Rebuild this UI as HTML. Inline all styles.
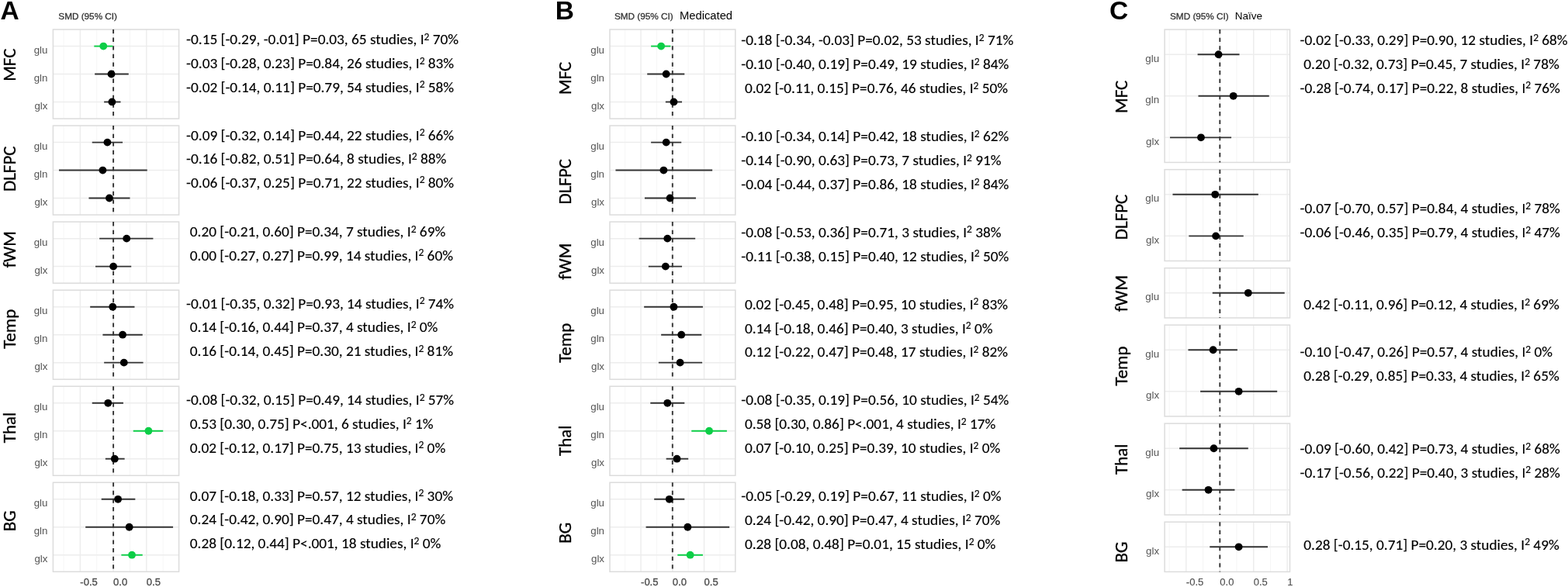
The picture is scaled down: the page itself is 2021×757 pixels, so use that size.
<!DOCTYPE html><html><head><meta charset="utf-8"><style>html,body{margin:0;padding:0;background:#fff;}body{width:2021px;height:757px;overflow:hidden;}svg{display:block;}</style></head><body>
<svg width="2021" height="757" viewBox="0 0 2021 757">
<rect width="2021" height="757" fill="#fff"/>
<g>
<line x1="81.97" y1="38.00" x2="81.97" y2="153.04" stroke="#f4f4f4" stroke-width="0.8"/>
<line x1="103.35" y1="38.00" x2="103.35" y2="153.04" stroke="#ececec" stroke-width="1.4"/>
<line x1="124.72" y1="38.00" x2="124.72" y2="153.04" stroke="#f4f4f4" stroke-width="0.8"/>
<line x1="146.10" y1="38.00" x2="146.10" y2="153.04" stroke="#ececec" stroke-width="1.4"/>
<line x1="167.47" y1="38.00" x2="167.47" y2="153.04" stroke="#f4f4f4" stroke-width="0.8"/>
<line x1="188.85" y1="38.00" x2="188.85" y2="153.04" stroke="#ececec" stroke-width="1.4"/>
<line x1="210.22" y1="38.00" x2="210.22" y2="153.04" stroke="#f4f4f4" stroke-width="0.8"/>
<line x1="68.40" y1="59.57" x2="230.60" y2="59.57" stroke="#ededed" stroke-width="1.5"/>
<line x1="68.40" y1="95.52" x2="230.60" y2="95.52" stroke="#ededed" stroke-width="1.5"/>
<line x1="68.40" y1="131.47" x2="230.60" y2="131.47" stroke="#ededed" stroke-width="1.5"/>
<rect x="68.40" y="38.00" width="162.20" height="115.04" fill="none" stroke="#dcdcdc" stroke-width="1.5"/>
<line x1="146.10" y1="38.00" x2="146.10" y2="153.04" stroke="#333" stroke-width="1.9" stroke-dasharray="5.3 5.3"/>
<line x1="121.30" y1="59.57" x2="145.25" y2="59.57" stroke="#0dce47" stroke-width="1.9"/>
<circle cx="133.28" cy="59.57" r="4.9" fill="#0dce47"/>
<line x1="122.16" y1="95.52" x2="165.76" y2="95.52" stroke="#333" stroke-width="1.9"/>
<circle cx="143.53" cy="95.52" r="4.9" fill="#000"/>
<line x1="134.13" y1="131.47" x2="155.50" y2="131.47" stroke="#333" stroke-width="1.9"/>
<circle cx="144.39" cy="131.47" r="4.9" fill="#000"/>
<text x="61.40" y="69.17" font-family="'Liberation Sans', Arial, sans-serif" font-size="13.3" fill="#555" text-anchor="end">glu</text>
<text x="61.40" y="105.12" font-family="'Liberation Sans', Arial, sans-serif" font-size="13.3" fill="#555" text-anchor="end">gln</text>
<text x="61.40" y="141.07" font-family="'Liberation Sans', Arial, sans-serif" font-size="13.3" fill="#555" text-anchor="end">glx</text>
</g>
<text transform="translate(20.00,83.70) rotate(-90)" textLength="42.30" lengthAdjust="spacingAndGlyphs" font-family="Carlito, 'Liberation Sans', sans-serif" font-size="23" fill="#000" stroke="#000" stroke-width="0.35" text-anchor="middle">MFC</text>
<text x="240.10" y="57.30" textLength="350.97" lengthAdjust="spacingAndGlyphs" font-family="Carlito, 'Liberation Sans', sans-serif" font-size="19.3" fill="#000" stroke="#000" stroke-width="0.15" xml:space="preserve">-0.15 [-0.29, -0.01] P=0.03, 65 studies, I<tspan font-size="13.5" dy="-5.4">2</tspan><tspan dy="5.4"> 70%</tspan></text>
<text x="240.10" y="87.90" textLength="345.06" lengthAdjust="spacingAndGlyphs" font-family="Carlito, 'Liberation Sans', sans-serif" font-size="19.3" fill="#000" stroke="#000" stroke-width="0.15" xml:space="preserve">-0.03 [-0.28, 0.23] P=0.84, 26 studies, I<tspan font-size="13.5" dy="-5.4">2</tspan><tspan dy="5.4"> 83%</tspan></text>
<text x="240.10" y="118.60" textLength="345.06" lengthAdjust="spacingAndGlyphs" font-family="Carlito, 'Liberation Sans', sans-serif" font-size="19.3" fill="#000" stroke="#000" stroke-width="0.15" xml:space="preserve">-0.02 [-0.14, 0.11] P=0.79, 54 studies, I<tspan font-size="13.5" dy="-5.4">2</tspan><tspan dy="5.4"> 58%</tspan></text>
<g>
<line x1="81.97" y1="162.04" x2="81.97" y2="277.08" stroke="#f4f4f4" stroke-width="0.8"/>
<line x1="103.35" y1="162.04" x2="103.35" y2="277.08" stroke="#ececec" stroke-width="1.4"/>
<line x1="124.72" y1="162.04" x2="124.72" y2="277.08" stroke="#f4f4f4" stroke-width="0.8"/>
<line x1="146.10" y1="162.04" x2="146.10" y2="277.08" stroke="#ececec" stroke-width="1.4"/>
<line x1="167.47" y1="162.04" x2="167.47" y2="277.08" stroke="#f4f4f4" stroke-width="0.8"/>
<line x1="188.85" y1="162.04" x2="188.85" y2="277.08" stroke="#ececec" stroke-width="1.4"/>
<line x1="210.22" y1="162.04" x2="210.22" y2="277.08" stroke="#f4f4f4" stroke-width="0.8"/>
<line x1="68.40" y1="183.61" x2="230.60" y2="183.61" stroke="#ededed" stroke-width="1.5"/>
<line x1="68.40" y1="219.56" x2="230.60" y2="219.56" stroke="#ededed" stroke-width="1.5"/>
<line x1="68.40" y1="255.51" x2="230.60" y2="255.51" stroke="#ededed" stroke-width="1.5"/>
<rect x="68.40" y="162.04" width="162.20" height="115.04" fill="none" stroke="#dcdcdc" stroke-width="1.5"/>
<line x1="146.10" y1="162.04" x2="146.10" y2="277.08" stroke="#333" stroke-width="1.9" stroke-dasharray="5.3 5.3"/>
<line x1="118.74" y1="183.61" x2="158.07" y2="183.61" stroke="#333" stroke-width="1.9"/>
<circle cx="138.41" cy="183.61" r="4.9" fill="#000"/>
<line x1="75.99" y1="219.56" x2="189.70" y2="219.56" stroke="#333" stroke-width="1.9"/>
<circle cx="132.42" cy="219.56" r="4.9" fill="#000"/>
<line x1="114.47" y1="255.51" x2="167.47" y2="255.51" stroke="#333" stroke-width="1.9"/>
<circle cx="140.97" cy="255.51" r="4.9" fill="#000"/>
<text x="61.40" y="193.21" font-family="'Liberation Sans', Arial, sans-serif" font-size="13.3" fill="#555" text-anchor="end">glu</text>
<text x="61.40" y="229.16" font-family="'Liberation Sans', Arial, sans-serif" font-size="13.3" fill="#555" text-anchor="end">gln</text>
<text x="61.40" y="265.11" font-family="'Liberation Sans', Arial, sans-serif" font-size="13.3" fill="#555" text-anchor="end">glx</text>
</g>
<text transform="translate(20.00,217.70) rotate(-90)" textLength="58.55" lengthAdjust="spacingAndGlyphs" font-family="Carlito, 'Liberation Sans', sans-serif" font-size="23" fill="#000" stroke="#000" stroke-width="0.35" text-anchor="middle">DLFPC</text>
<text x="240.10" y="180.70" textLength="345.06" lengthAdjust="spacingAndGlyphs" font-family="Carlito, 'Liberation Sans', sans-serif" font-size="19.3" fill="#000" stroke="#000" stroke-width="0.15" xml:space="preserve">-0.09 [-0.32, 0.14] P=0.44, 22 studies, I<tspan font-size="13.5" dy="-5.4">2</tspan><tspan dy="5.4"> 66%</tspan></text>
<text x="240.10" y="211.40" textLength="335.30" lengthAdjust="spacingAndGlyphs" font-family="Carlito, 'Liberation Sans', sans-serif" font-size="19.3" fill="#000" stroke="#000" stroke-width="0.15" xml:space="preserve">-0.16 [-0.82, 0.51] P=0.64, 8 studies, I<tspan font-size="13.5" dy="-5.4">2</tspan><tspan dy="5.4"> 88%</tspan></text>
<text x="240.10" y="241.80" textLength="345.06" lengthAdjust="spacingAndGlyphs" font-family="Carlito, 'Liberation Sans', sans-serif" font-size="19.3" fill="#000" stroke="#000" stroke-width="0.15" xml:space="preserve">-0.06 [-0.37, 0.25] P=0.71, 22 studies, I<tspan font-size="13.5" dy="-5.4">2</tspan><tspan dy="5.4"> 80%</tspan></text>
<g>
<line x1="81.97" y1="286.08" x2="81.97" y2="365.17" stroke="#f4f4f4" stroke-width="0.8"/>
<line x1="103.35" y1="286.08" x2="103.35" y2="365.17" stroke="#ececec" stroke-width="1.4"/>
<line x1="124.72" y1="286.08" x2="124.72" y2="365.17" stroke="#f4f4f4" stroke-width="0.8"/>
<line x1="146.10" y1="286.08" x2="146.10" y2="365.17" stroke="#ececec" stroke-width="1.4"/>
<line x1="167.47" y1="286.08" x2="167.47" y2="365.17" stroke="#f4f4f4" stroke-width="0.8"/>
<line x1="188.85" y1="286.08" x2="188.85" y2="365.17" stroke="#ececec" stroke-width="1.4"/>
<line x1="210.22" y1="286.08" x2="210.22" y2="365.17" stroke="#f4f4f4" stroke-width="0.8"/>
<line x1="68.40" y1="307.65" x2="230.60" y2="307.65" stroke="#ededed" stroke-width="1.5"/>
<line x1="68.40" y1="343.60" x2="230.60" y2="343.60" stroke="#ededed" stroke-width="1.5"/>
<rect x="68.40" y="286.08" width="162.20" height="79.09" fill="none" stroke="#dcdcdc" stroke-width="1.5"/>
<line x1="146.10" y1="286.08" x2="146.10" y2="365.17" stroke="#333" stroke-width="1.9" stroke-dasharray="5.3 5.3"/>
<line x1="128.14" y1="307.65" x2="197.40" y2="307.65" stroke="#333" stroke-width="1.9"/>
<circle cx="163.20" cy="307.65" r="4.9" fill="#000"/>
<line x1="123.01" y1="343.60" x2="169.19" y2="343.60" stroke="#333" stroke-width="1.9"/>
<circle cx="146.10" cy="343.60" r="4.9" fill="#000"/>
<text x="61.40" y="317.25" font-family="'Liberation Sans', Arial, sans-serif" font-size="13.3" fill="#555" text-anchor="end">glu</text>
<text x="61.40" y="353.20" font-family="'Liberation Sans', Arial, sans-serif" font-size="13.3" fill="#555" text-anchor="end">glx</text>
</g>
<text transform="translate(20.00,321.70) rotate(-90)" textLength="47.16" lengthAdjust="spacingAndGlyphs" font-family="Carlito, 'Liberation Sans', sans-serif" font-size="23" fill="#000" stroke="#000" stroke-width="0.35" text-anchor="middle">fWM</text>
<text x="244.80" y="304.90" textLength="329.39" lengthAdjust="spacingAndGlyphs" font-family="Carlito, 'Liberation Sans', sans-serif" font-size="19.3" fill="#000" stroke="#000" stroke-width="0.15" xml:space="preserve">0.20 [-0.21, 0.60] P=0.34, 7 studies, I<tspan font-size="13.5" dy="-5.4">2</tspan><tspan dy="5.4"> 69%</tspan></text>
<text x="244.80" y="335.50" textLength="339.16" lengthAdjust="spacingAndGlyphs" font-family="Carlito, 'Liberation Sans', sans-serif" font-size="19.3" fill="#000" stroke="#000" stroke-width="0.15" xml:space="preserve">0.00 [-0.27, 0.27] P=0.99, 14 studies, I<tspan font-size="13.5" dy="-5.4">2</tspan><tspan dy="5.4"> 60%</tspan></text>
<g>
<line x1="81.97" y1="374.17" x2="81.97" y2="489.21" stroke="#f4f4f4" stroke-width="0.8"/>
<line x1="103.35" y1="374.17" x2="103.35" y2="489.21" stroke="#ececec" stroke-width="1.4"/>
<line x1="124.72" y1="374.17" x2="124.72" y2="489.21" stroke="#f4f4f4" stroke-width="0.8"/>
<line x1="146.10" y1="374.17" x2="146.10" y2="489.21" stroke="#ececec" stroke-width="1.4"/>
<line x1="167.47" y1="374.17" x2="167.47" y2="489.21" stroke="#f4f4f4" stroke-width="0.8"/>
<line x1="188.85" y1="374.17" x2="188.85" y2="489.21" stroke="#ececec" stroke-width="1.4"/>
<line x1="210.22" y1="374.17" x2="210.22" y2="489.21" stroke="#f4f4f4" stroke-width="0.8"/>
<line x1="68.40" y1="395.74" x2="230.60" y2="395.74" stroke="#ededed" stroke-width="1.5"/>
<line x1="68.40" y1="431.69" x2="230.60" y2="431.69" stroke="#ededed" stroke-width="1.5"/>
<line x1="68.40" y1="467.64" x2="230.60" y2="467.64" stroke="#ededed" stroke-width="1.5"/>
<rect x="68.40" y="374.17" width="162.20" height="115.04" fill="none" stroke="#dcdcdc" stroke-width="1.5"/>
<line x1="146.10" y1="374.17" x2="146.10" y2="489.21" stroke="#333" stroke-width="1.9" stroke-dasharray="5.3 5.3"/>
<line x1="116.17" y1="395.74" x2="173.46" y2="395.74" stroke="#333" stroke-width="1.9"/>
<circle cx="145.25" cy="395.74" r="4.9" fill="#000"/>
<line x1="132.42" y1="431.69" x2="183.72" y2="431.69" stroke="#333" stroke-width="1.9"/>
<circle cx="158.07" cy="431.69" r="4.9" fill="#000"/>
<line x1="134.13" y1="467.64" x2="184.57" y2="467.64" stroke="#333" stroke-width="1.9"/>
<circle cx="159.78" cy="467.64" r="4.9" fill="#000"/>
<text x="61.40" y="405.34" font-family="'Liberation Sans', Arial, sans-serif" font-size="13.3" fill="#555" text-anchor="end">glu</text>
<text x="61.40" y="441.29" font-family="'Liberation Sans', Arial, sans-serif" font-size="13.3" fill="#555" text-anchor="end">gln</text>
<text x="61.40" y="477.24" font-family="'Liberation Sans', Arial, sans-serif" font-size="13.3" fill="#555" text-anchor="end">glx</text>
</g>
<text transform="translate(20.00,424.30) rotate(-90)" textLength="51.08" lengthAdjust="spacingAndGlyphs" font-family="Carlito, 'Liberation Sans', sans-serif" font-size="23" fill="#000" stroke="#000" stroke-width="0.35" text-anchor="middle">Temp</text>
<text x="240.10" y="397.80" textLength="345.06" lengthAdjust="spacingAndGlyphs" font-family="Carlito, 'Liberation Sans', sans-serif" font-size="19.3" fill="#000" stroke="#000" stroke-width="0.15" xml:space="preserve">-0.01 [-0.35, 0.32] P=0.93, 14 studies, I<tspan font-size="13.5" dy="-5.4">2</tspan><tspan dy="5.4"> 74%</tspan></text>
<text x="244.80" y="428.40" textLength="319.62" lengthAdjust="spacingAndGlyphs" font-family="Carlito, 'Liberation Sans', sans-serif" font-size="19.3" fill="#000" stroke="#000" stroke-width="0.15" xml:space="preserve">0.14 [-0.16, 0.44] P=0.37, 4 studies, I<tspan font-size="13.5" dy="-5.4">2</tspan><tspan dy="5.4"> 0%</tspan></text>
<text x="244.80" y="459.20" textLength="339.16" lengthAdjust="spacingAndGlyphs" font-family="Carlito, 'Liberation Sans', sans-serif" font-size="19.3" fill="#000" stroke="#000" stroke-width="0.15" xml:space="preserve">0.16 [-0.14, 0.45] P=0.30, 21 studies, I<tspan font-size="13.5" dy="-5.4">2</tspan><tspan dy="5.4"> 81%</tspan></text>
<g>
<line x1="81.97" y1="498.21" x2="81.97" y2="613.25" stroke="#f4f4f4" stroke-width="0.8"/>
<line x1="103.35" y1="498.21" x2="103.35" y2="613.25" stroke="#ececec" stroke-width="1.4"/>
<line x1="124.72" y1="498.21" x2="124.72" y2="613.25" stroke="#f4f4f4" stroke-width="0.8"/>
<line x1="146.10" y1="498.21" x2="146.10" y2="613.25" stroke="#ececec" stroke-width="1.4"/>
<line x1="167.47" y1="498.21" x2="167.47" y2="613.25" stroke="#f4f4f4" stroke-width="0.8"/>
<line x1="188.85" y1="498.21" x2="188.85" y2="613.25" stroke="#ececec" stroke-width="1.4"/>
<line x1="210.22" y1="498.21" x2="210.22" y2="613.25" stroke="#f4f4f4" stroke-width="0.8"/>
<line x1="68.40" y1="519.78" x2="230.60" y2="519.78" stroke="#ededed" stroke-width="1.5"/>
<line x1="68.40" y1="555.73" x2="230.60" y2="555.73" stroke="#ededed" stroke-width="1.5"/>
<line x1="68.40" y1="591.68" x2="230.60" y2="591.68" stroke="#ededed" stroke-width="1.5"/>
<rect x="68.40" y="498.21" width="162.20" height="115.04" fill="none" stroke="#dcdcdc" stroke-width="1.5"/>
<line x1="146.10" y1="498.21" x2="146.10" y2="613.25" stroke="#333" stroke-width="1.9" stroke-dasharray="5.3 5.3"/>
<line x1="118.74" y1="519.78" x2="158.92" y2="519.78" stroke="#333" stroke-width="1.9"/>
<circle cx="139.26" cy="519.78" r="4.9" fill="#000"/>
<line x1="171.75" y1="555.73" x2="210.22" y2="555.73" stroke="#0dce47" stroke-width="1.9"/>
<circle cx="191.41" cy="555.73" r="4.9" fill="#0dce47"/>
<line x1="135.84" y1="591.68" x2="160.63" y2="591.68" stroke="#333" stroke-width="1.9"/>
<circle cx="147.81" cy="591.68" r="4.9" fill="#000"/>
<text x="61.40" y="529.38" font-family="'Liberation Sans', Arial, sans-serif" font-size="13.3" fill="#555" text-anchor="end">glu</text>
<text x="61.40" y="565.33" font-family="'Liberation Sans', Arial, sans-serif" font-size="13.3" fill="#555" text-anchor="end">gln</text>
<text x="61.40" y="601.28" font-family="'Liberation Sans', Arial, sans-serif" font-size="13.3" fill="#555" text-anchor="end">glx</text>
</g>
<text transform="translate(20.00,551.50) rotate(-90)" textLength="39.59" lengthAdjust="spacingAndGlyphs" font-family="Carlito, 'Liberation Sans', sans-serif" font-size="23" fill="#000" stroke="#000" stroke-width="0.35" text-anchor="middle">Thal</text>
<text x="240.10" y="522.10" textLength="345.06" lengthAdjust="spacingAndGlyphs" font-family="Carlito, 'Liberation Sans', sans-serif" font-size="19.3" fill="#000" stroke="#000" stroke-width="0.15" xml:space="preserve">-0.08 [-0.32, 0.15] P=0.49, 14 studies, I<tspan font-size="13.5" dy="-5.4">2</tspan><tspan dy="5.4"> 57%</tspan></text>
<text x="244.80" y="552.70" textLength="313.72" lengthAdjust="spacingAndGlyphs" font-family="Carlito, 'Liberation Sans', sans-serif" font-size="19.3" fill="#000" stroke="#000" stroke-width="0.15" xml:space="preserve">0.53 [0.30, 0.75] P&lt;.001, 6 studies, I<tspan font-size="13.5" dy="-5.4">2</tspan><tspan dy="5.4"> 1%</tspan></text>
<text x="244.80" y="583.60" textLength="329.39" lengthAdjust="spacingAndGlyphs" font-family="Carlito, 'Liberation Sans', sans-serif" font-size="19.3" fill="#000" stroke="#000" stroke-width="0.15" xml:space="preserve">0.02 [-0.12, 0.17] P=0.75, 13 studies, I<tspan font-size="13.5" dy="-5.4">2</tspan><tspan dy="5.4"> 0%</tspan></text>
<g>
<line x1="81.97" y1="622.25" x2="81.97" y2="737.29" stroke="#f4f4f4" stroke-width="0.8"/>
<line x1="103.35" y1="622.25" x2="103.35" y2="737.29" stroke="#ececec" stroke-width="1.4"/>
<line x1="124.72" y1="622.25" x2="124.72" y2="737.29" stroke="#f4f4f4" stroke-width="0.8"/>
<line x1="146.10" y1="622.25" x2="146.10" y2="737.29" stroke="#ececec" stroke-width="1.4"/>
<line x1="167.47" y1="622.25" x2="167.47" y2="737.29" stroke="#f4f4f4" stroke-width="0.8"/>
<line x1="188.85" y1="622.25" x2="188.85" y2="737.29" stroke="#ececec" stroke-width="1.4"/>
<line x1="210.22" y1="622.25" x2="210.22" y2="737.29" stroke="#f4f4f4" stroke-width="0.8"/>
<line x1="68.40" y1="643.82" x2="230.60" y2="643.82" stroke="#ededed" stroke-width="1.5"/>
<line x1="68.40" y1="679.77" x2="230.60" y2="679.77" stroke="#ededed" stroke-width="1.5"/>
<line x1="68.40" y1="715.72" x2="230.60" y2="715.72" stroke="#ededed" stroke-width="1.5"/>
<rect x="68.40" y="622.25" width="162.20" height="115.04" fill="none" stroke="#dcdcdc" stroke-width="1.5"/>
<line x1="146.10" y1="622.25" x2="146.10" y2="737.29" stroke="#333" stroke-width="1.9" stroke-dasharray="5.3 5.3"/>
<line x1="130.71" y1="643.82" x2="174.31" y2="643.82" stroke="#333" stroke-width="1.9"/>
<circle cx="152.09" cy="643.82" r="4.9" fill="#000"/>
<line x1="110.19" y1="679.77" x2="223.05" y2="679.77" stroke="#333" stroke-width="1.9"/>
<circle cx="166.62" cy="679.77" r="4.9" fill="#000"/>
<line x1="156.36" y1="715.72" x2="183.72" y2="715.72" stroke="#0dce47" stroke-width="1.9"/>
<circle cx="170.04" cy="715.72" r="4.9" fill="#0dce47"/>
<text x="61.40" y="653.42" font-family="'Liberation Sans', Arial, sans-serif" font-size="13.3" fill="#555" text-anchor="end">glu</text>
<text x="61.40" y="689.37" font-family="'Liberation Sans', Arial, sans-serif" font-size="13.3" fill="#555" text-anchor="end">gln</text>
<text x="61.40" y="725.32" font-family="'Liberation Sans', Arial, sans-serif" font-size="13.3" fill="#555" text-anchor="end">glx</text>
</g>
<text transform="translate(20.00,671.70) rotate(-90)" textLength="27.03" lengthAdjust="spacingAndGlyphs" font-family="Carlito, 'Liberation Sans', sans-serif" font-size="23" fill="#000" stroke="#000" stroke-width="0.35" text-anchor="middle">BG</text>
<text x="244.80" y="645.60" textLength="339.16" lengthAdjust="spacingAndGlyphs" font-family="Carlito, 'Liberation Sans', sans-serif" font-size="19.3" fill="#000" stroke="#000" stroke-width="0.15" xml:space="preserve">0.07 [-0.18, 0.33] P=0.57, 12 studies, I<tspan font-size="13.5" dy="-5.4">2</tspan><tspan dy="5.4"> 30%</tspan></text>
<text x="244.80" y="676.30" textLength="329.39" lengthAdjust="spacingAndGlyphs" font-family="Carlito, 'Liberation Sans', sans-serif" font-size="19.3" fill="#000" stroke="#000" stroke-width="0.15" xml:space="preserve">0.24 [-0.42, 0.90] P=0.47, 4 studies, I<tspan font-size="13.5" dy="-5.4">2</tspan><tspan dy="5.4"> 70%</tspan></text>
<text x="244.80" y="707.10" textLength="323.50" lengthAdjust="spacingAndGlyphs" font-family="Carlito, 'Liberation Sans', sans-serif" font-size="19.3" fill="#000" stroke="#000" stroke-width="0.15" xml:space="preserve">0.28 [0.12, 0.44] P&lt;.001, 18 studies, I<tspan font-size="13.5" dy="-5.4">2</tspan><tspan dy="5.4"> 0%</tspan></text>
<text x="103.35" y="755.1" font-family="'Liberation Sans', Arial, sans-serif" font-size="13" fill="#4d4d4d" stroke="#4d4d4d" stroke-width="0.35">-0.5</text>
<text x="146.10" y="755.1" font-family="'Liberation Sans', Arial, sans-serif" font-size="13" fill="#4d4d4d" stroke="#4d4d4d" stroke-width="0.35">0.0</text>
<text x="188.85" y="755.1" font-family="'Liberation Sans', Arial, sans-serif" font-size="13" fill="#4d4d4d" stroke="#4d4d4d" stroke-width="0.35">0.5</text>
<text x="0.4" y="24.8" font-family="'Liberation Sans', Arial, sans-serif" font-size="33.5" font-weight="bold" fill="#000">A</text>
<text x="75.3" y="24.7" font-family="'Liberation Sans', Arial, sans-serif" font-size="11.75" fill="#333" stroke="#333" stroke-width="0.3">SMD (95% CI)</text>
<g>
<line x1="805.67" y1="38.00" x2="805.67" y2="153.04" stroke="#f4f4f4" stroke-width="0.8"/>
<line x1="826.05" y1="38.00" x2="826.05" y2="153.04" stroke="#ececec" stroke-width="1.4"/>
<line x1="846.42" y1="38.00" x2="846.42" y2="153.04" stroke="#f4f4f4" stroke-width="0.8"/>
<line x1="866.80" y1="38.00" x2="866.80" y2="153.04" stroke="#ececec" stroke-width="1.4"/>
<line x1="887.17" y1="38.00" x2="887.17" y2="153.04" stroke="#f4f4f4" stroke-width="0.8"/>
<line x1="907.55" y1="38.00" x2="907.55" y2="153.04" stroke="#ececec" stroke-width="1.4"/>
<line x1="927.92" y1="38.00" x2="927.92" y2="153.04" stroke="#f4f4f4" stroke-width="0.8"/>
<line x1="786.00" y1="59.57" x2="947.80" y2="59.57" stroke="#ededed" stroke-width="1.5"/>
<line x1="786.00" y1="95.52" x2="947.80" y2="95.52" stroke="#ededed" stroke-width="1.5"/>
<line x1="786.00" y1="131.47" x2="947.80" y2="131.47" stroke="#ededed" stroke-width="1.5"/>
<rect x="786.00" y="38.00" width="161.80" height="115.04" fill="none" stroke="#dcdcdc" stroke-width="1.5"/>
<line x1="866.80" y1="38.00" x2="866.80" y2="153.04" stroke="#333" stroke-width="1.9" stroke-dasharray="5.3 5.3"/>
<line x1="839.09" y1="59.57" x2="864.35" y2="59.57" stroke="#0dce47" stroke-width="1.9"/>
<circle cx="852.13" cy="59.57" r="4.9" fill="#0dce47"/>
<line x1="834.20" y1="95.52" x2="882.28" y2="95.52" stroke="#333" stroke-width="1.9"/>
<circle cx="858.65" cy="95.52" r="4.9" fill="#000"/>
<line x1="857.83" y1="131.47" x2="879.02" y2="131.47" stroke="#333" stroke-width="1.9"/>
<circle cx="868.43" cy="131.47" r="4.9" fill="#000"/>
<text x="779.00" y="69.17" font-family="'Liberation Sans', Arial, sans-serif" font-size="13.3" fill="#555" text-anchor="end">glu</text>
<text x="779.00" y="105.12" font-family="'Liberation Sans', Arial, sans-serif" font-size="13.3" fill="#555" text-anchor="end">gln</text>
<text x="779.00" y="141.07" font-family="'Liberation Sans', Arial, sans-serif" font-size="13.3" fill="#555" text-anchor="end">glx</text>
</g>
<text transform="translate(736.30,100.80) rotate(-90)" textLength="42.30" lengthAdjust="spacingAndGlyphs" font-family="Carlito, 'Liberation Sans', sans-serif" font-size="23" fill="#000" stroke="#000" stroke-width="0.35" text-anchor="middle">MFC</text>
<text x="955.30" y="58.00" textLength="350.97" lengthAdjust="spacingAndGlyphs" font-family="Carlito, 'Liberation Sans', sans-serif" font-size="19.3" fill="#000" stroke="#000" stroke-width="0.15" xml:space="preserve">-0.18 [-0.34, -0.03] P=0.02, 53 studies, I<tspan font-size="13.5" dy="-5.4">2</tspan><tspan dy="5.4"> 71%</tspan></text>
<text x="955.30" y="89.10" textLength="345.06" lengthAdjust="spacingAndGlyphs" font-family="Carlito, 'Liberation Sans', sans-serif" font-size="19.3" fill="#000" stroke="#000" stroke-width="0.15" xml:space="preserve">-0.10 [-0.40, 0.19] P=0.49, 19 studies, I<tspan font-size="13.5" dy="-5.4">2</tspan><tspan dy="5.4"> 84%</tspan></text>
<text x="959.90" y="120.10" textLength="339.16" lengthAdjust="spacingAndGlyphs" font-family="Carlito, 'Liberation Sans', sans-serif" font-size="19.3" fill="#000" stroke="#000" stroke-width="0.15" xml:space="preserve">0.02 [-0.11, 0.15] P=0.76, 46 studies, I<tspan font-size="13.5" dy="-5.4">2</tspan><tspan dy="5.4"> 50%</tspan></text>
<g>
<line x1="805.67" y1="162.04" x2="805.67" y2="277.08" stroke="#f4f4f4" stroke-width="0.8"/>
<line x1="826.05" y1="162.04" x2="826.05" y2="277.08" stroke="#ececec" stroke-width="1.4"/>
<line x1="846.42" y1="162.04" x2="846.42" y2="277.08" stroke="#f4f4f4" stroke-width="0.8"/>
<line x1="866.80" y1="162.04" x2="866.80" y2="277.08" stroke="#ececec" stroke-width="1.4"/>
<line x1="887.17" y1="162.04" x2="887.17" y2="277.08" stroke="#f4f4f4" stroke-width="0.8"/>
<line x1="907.55" y1="162.04" x2="907.55" y2="277.08" stroke="#ececec" stroke-width="1.4"/>
<line x1="927.92" y1="162.04" x2="927.92" y2="277.08" stroke="#f4f4f4" stroke-width="0.8"/>
<line x1="786.00" y1="183.61" x2="947.80" y2="183.61" stroke="#ededed" stroke-width="1.5"/>
<line x1="786.00" y1="219.56" x2="947.80" y2="219.56" stroke="#ededed" stroke-width="1.5"/>
<line x1="786.00" y1="255.51" x2="947.80" y2="255.51" stroke="#ededed" stroke-width="1.5"/>
<rect x="786.00" y="162.04" width="161.80" height="115.04" fill="none" stroke="#dcdcdc" stroke-width="1.5"/>
<line x1="866.80" y1="162.04" x2="866.80" y2="277.08" stroke="#333" stroke-width="1.9" stroke-dasharray="5.3 5.3"/>
<line x1="839.09" y1="183.61" x2="878.21" y2="183.61" stroke="#333" stroke-width="1.9"/>
<circle cx="858.65" cy="183.61" r="4.9" fill="#000"/>
<line x1="793.45" y1="219.56" x2="918.14" y2="219.56" stroke="#333" stroke-width="1.9"/>
<circle cx="855.39" cy="219.56" r="4.9" fill="#000"/>
<line x1="830.94" y1="255.51" x2="896.95" y2="255.51" stroke="#333" stroke-width="1.9"/>
<circle cx="863.54" cy="255.51" r="4.9" fill="#000"/>
<text x="779.00" y="193.21" font-family="'Liberation Sans', Arial, sans-serif" font-size="13.3" fill="#555" text-anchor="end">glu</text>
<text x="779.00" y="229.16" font-family="'Liberation Sans', Arial, sans-serif" font-size="13.3" fill="#555" text-anchor="end">gln</text>
<text x="779.00" y="265.11" font-family="'Liberation Sans', Arial, sans-serif" font-size="13.3" fill="#555" text-anchor="end">glx</text>
</g>
<text transform="translate(736.30,234.20) rotate(-90)" textLength="58.55" lengthAdjust="spacingAndGlyphs" font-family="Carlito, 'Liberation Sans', sans-serif" font-size="23" fill="#000" stroke="#000" stroke-width="0.35" text-anchor="middle">DLFPC</text>
<text x="955.30" y="182.00" textLength="345.06" lengthAdjust="spacingAndGlyphs" font-family="Carlito, 'Liberation Sans', sans-serif" font-size="19.3" fill="#000" stroke="#000" stroke-width="0.15" xml:space="preserve">-0.10 [-0.34, 0.14] P=0.42, 18 studies, I<tspan font-size="13.5" dy="-5.4">2</tspan><tspan dy="5.4"> 62%</tspan></text>
<text x="955.30" y="212.90" textLength="335.30" lengthAdjust="spacingAndGlyphs" font-family="Carlito, 'Liberation Sans', sans-serif" font-size="19.3" fill="#000" stroke="#000" stroke-width="0.15" xml:space="preserve">-0.14 [-0.90, 0.63] P=0.73, 7 studies, I<tspan font-size="13.5" dy="-5.4">2</tspan><tspan dy="5.4"> 91%</tspan></text>
<text x="955.30" y="243.90" textLength="345.06" lengthAdjust="spacingAndGlyphs" font-family="Carlito, 'Liberation Sans', sans-serif" font-size="19.3" fill="#000" stroke="#000" stroke-width="0.15" xml:space="preserve">-0.04 [-0.44, 0.37] P=0.86, 18 studies, I<tspan font-size="13.5" dy="-5.4">2</tspan><tspan dy="5.4"> 84%</tspan></text>
<g>
<line x1="805.67" y1="286.08" x2="805.67" y2="365.17" stroke="#f4f4f4" stroke-width="0.8"/>
<line x1="826.05" y1="286.08" x2="826.05" y2="365.17" stroke="#ececec" stroke-width="1.4"/>
<line x1="846.42" y1="286.08" x2="846.42" y2="365.17" stroke="#f4f4f4" stroke-width="0.8"/>
<line x1="866.80" y1="286.08" x2="866.80" y2="365.17" stroke="#ececec" stroke-width="1.4"/>
<line x1="887.17" y1="286.08" x2="887.17" y2="365.17" stroke="#f4f4f4" stroke-width="0.8"/>
<line x1="907.55" y1="286.08" x2="907.55" y2="365.17" stroke="#ececec" stroke-width="1.4"/>
<line x1="927.92" y1="286.08" x2="927.92" y2="365.17" stroke="#f4f4f4" stroke-width="0.8"/>
<line x1="786.00" y1="307.65" x2="947.80" y2="307.65" stroke="#ededed" stroke-width="1.5"/>
<line x1="786.00" y1="343.60" x2="947.80" y2="343.60" stroke="#ededed" stroke-width="1.5"/>
<rect x="786.00" y="286.08" width="161.80" height="79.09" fill="none" stroke="#dcdcdc" stroke-width="1.5"/>
<line x1="866.80" y1="286.08" x2="866.80" y2="365.17" stroke="#333" stroke-width="1.9" stroke-dasharray="5.3 5.3"/>
<line x1="823.60" y1="307.65" x2="896.14" y2="307.65" stroke="#333" stroke-width="1.9"/>
<circle cx="860.28" cy="307.65" r="4.9" fill="#000"/>
<line x1="835.83" y1="343.60" x2="879.02" y2="343.60" stroke="#333" stroke-width="1.9"/>
<circle cx="857.83" cy="343.60" r="4.9" fill="#000"/>
<text x="779.00" y="317.25" font-family="'Liberation Sans', Arial, sans-serif" font-size="13.3" fill="#555" text-anchor="end">glu</text>
<text x="779.00" y="353.20" font-family="'Liberation Sans', Arial, sans-serif" font-size="13.3" fill="#555" text-anchor="end">glx</text>
</g>
<text transform="translate(736.30,337.10) rotate(-90)" textLength="47.16" lengthAdjust="spacingAndGlyphs" font-family="Carlito, 'Liberation Sans', sans-serif" font-size="23" fill="#000" stroke="#000" stroke-width="0.35" text-anchor="middle">fWM</text>
<text x="955.30" y="305.80" textLength="335.30" lengthAdjust="spacingAndGlyphs" font-family="Carlito, 'Liberation Sans', sans-serif" font-size="19.3" fill="#000" stroke="#000" stroke-width="0.15" xml:space="preserve">-0.08 [-0.53, 0.36] P=0.71, 3 studies, I<tspan font-size="13.5" dy="-5.4">2</tspan><tspan dy="5.4"> 38%</tspan></text>
<text x="955.30" y="336.50" textLength="345.06" lengthAdjust="spacingAndGlyphs" font-family="Carlito, 'Liberation Sans', sans-serif" font-size="19.3" fill="#000" stroke="#000" stroke-width="0.15" xml:space="preserve">-0.11 [-0.38, 0.15] P=0.40, 12 studies, I<tspan font-size="13.5" dy="-5.4">2</tspan><tspan dy="5.4"> 50%</tspan></text>
<g>
<line x1="805.67" y1="374.17" x2="805.67" y2="489.21" stroke="#f4f4f4" stroke-width="0.8"/>
<line x1="826.05" y1="374.17" x2="826.05" y2="489.21" stroke="#ececec" stroke-width="1.4"/>
<line x1="846.42" y1="374.17" x2="846.42" y2="489.21" stroke="#f4f4f4" stroke-width="0.8"/>
<line x1="866.80" y1="374.17" x2="866.80" y2="489.21" stroke="#ececec" stroke-width="1.4"/>
<line x1="887.17" y1="374.17" x2="887.17" y2="489.21" stroke="#f4f4f4" stroke-width="0.8"/>
<line x1="907.55" y1="374.17" x2="907.55" y2="489.21" stroke="#ececec" stroke-width="1.4"/>
<line x1="927.92" y1="374.17" x2="927.92" y2="489.21" stroke="#f4f4f4" stroke-width="0.8"/>
<line x1="786.00" y1="395.74" x2="947.80" y2="395.74" stroke="#ededed" stroke-width="1.5"/>
<line x1="786.00" y1="431.69" x2="947.80" y2="431.69" stroke="#ededed" stroke-width="1.5"/>
<line x1="786.00" y1="467.64" x2="947.80" y2="467.64" stroke="#ededed" stroke-width="1.5"/>
<rect x="786.00" y="374.17" width="161.80" height="115.04" fill="none" stroke="#dcdcdc" stroke-width="1.5"/>
<line x1="866.80" y1="374.17" x2="866.80" y2="489.21" stroke="#333" stroke-width="1.9" stroke-dasharray="5.3 5.3"/>
<line x1="830.12" y1="395.74" x2="905.92" y2="395.74" stroke="#333" stroke-width="1.9"/>
<circle cx="868.43" cy="395.74" r="4.9" fill="#000"/>
<line x1="852.13" y1="431.69" x2="904.29" y2="431.69" stroke="#333" stroke-width="1.9"/>
<circle cx="878.21" cy="431.69" r="4.9" fill="#000"/>
<line x1="848.87" y1="467.64" x2="905.10" y2="467.64" stroke="#333" stroke-width="1.9"/>
<circle cx="876.58" cy="467.64" r="4.9" fill="#000"/>
<text x="779.00" y="405.34" font-family="'Liberation Sans', Arial, sans-serif" font-size="13.3" fill="#555" text-anchor="end">glu</text>
<text x="779.00" y="441.29" font-family="'Liberation Sans', Arial, sans-serif" font-size="13.3" fill="#555" text-anchor="end">gln</text>
<text x="779.00" y="477.24" font-family="'Liberation Sans', Arial, sans-serif" font-size="13.3" fill="#555" text-anchor="end">glx</text>
</g>
<text transform="translate(736.30,442.30) rotate(-90)" textLength="51.08" lengthAdjust="spacingAndGlyphs" font-family="Carlito, 'Liberation Sans', sans-serif" font-size="23" fill="#000" stroke="#000" stroke-width="0.35" text-anchor="middle">Temp</text>
<text x="959.90" y="398.60" textLength="339.16" lengthAdjust="spacingAndGlyphs" font-family="Carlito, 'Liberation Sans', sans-serif" font-size="19.3" fill="#000" stroke="#000" stroke-width="0.15" xml:space="preserve">0.02 [-0.45, 0.48] P=0.95, 10 studies, I<tspan font-size="13.5" dy="-5.4">2</tspan><tspan dy="5.4"> 83%</tspan></text>
<text x="959.90" y="429.50" textLength="319.62" lengthAdjust="spacingAndGlyphs" font-family="Carlito, 'Liberation Sans', sans-serif" font-size="19.3" fill="#000" stroke="#000" stroke-width="0.15" xml:space="preserve">0.14 [-0.18, 0.46] P=0.40, 3 studies, I<tspan font-size="13.5" dy="-5.4">2</tspan><tspan dy="5.4"> 0%</tspan></text>
<text x="959.90" y="460.40" textLength="339.16" lengthAdjust="spacingAndGlyphs" font-family="Carlito, 'Liberation Sans', sans-serif" font-size="19.3" fill="#000" stroke="#000" stroke-width="0.15" xml:space="preserve">0.12 [-0.22, 0.47] P=0.48, 17 studies, I<tspan font-size="13.5" dy="-5.4">2</tspan><tspan dy="5.4"> 82%</tspan></text>
<g>
<line x1="805.67" y1="498.21" x2="805.67" y2="613.25" stroke="#f4f4f4" stroke-width="0.8"/>
<line x1="826.05" y1="498.21" x2="826.05" y2="613.25" stroke="#ececec" stroke-width="1.4"/>
<line x1="846.42" y1="498.21" x2="846.42" y2="613.25" stroke="#f4f4f4" stroke-width="0.8"/>
<line x1="866.80" y1="498.21" x2="866.80" y2="613.25" stroke="#ececec" stroke-width="1.4"/>
<line x1="887.17" y1="498.21" x2="887.17" y2="613.25" stroke="#f4f4f4" stroke-width="0.8"/>
<line x1="907.55" y1="498.21" x2="907.55" y2="613.25" stroke="#ececec" stroke-width="1.4"/>
<line x1="927.92" y1="498.21" x2="927.92" y2="613.25" stroke="#f4f4f4" stroke-width="0.8"/>
<line x1="786.00" y1="519.78" x2="947.80" y2="519.78" stroke="#ededed" stroke-width="1.5"/>
<line x1="786.00" y1="555.73" x2="947.80" y2="555.73" stroke="#ededed" stroke-width="1.5"/>
<line x1="786.00" y1="591.68" x2="947.80" y2="591.68" stroke="#ededed" stroke-width="1.5"/>
<rect x="786.00" y="498.21" width="161.80" height="115.04" fill="none" stroke="#dcdcdc" stroke-width="1.5"/>
<line x1="866.80" y1="498.21" x2="866.80" y2="613.25" stroke="#333" stroke-width="1.9" stroke-dasharray="5.3 5.3"/>
<line x1="838.27" y1="519.78" x2="882.28" y2="519.78" stroke="#333" stroke-width="1.9"/>
<circle cx="860.28" cy="519.78" r="4.9" fill="#000"/>
<line x1="891.25" y1="555.73" x2="936.89" y2="555.73" stroke="#0dce47" stroke-width="1.9"/>
<circle cx="914.07" cy="555.73" r="4.9" fill="#0dce47"/>
<line x1="858.65" y1="591.68" x2="887.17" y2="591.68" stroke="#333" stroke-width="1.9"/>
<circle cx="872.50" cy="591.68" r="4.9" fill="#000"/>
<text x="779.00" y="529.38" font-family="'Liberation Sans', Arial, sans-serif" font-size="13.3" fill="#555" text-anchor="end">glu</text>
<text x="779.00" y="565.33" font-family="'Liberation Sans', Arial, sans-serif" font-size="13.3" fill="#555" text-anchor="end">gln</text>
<text x="779.00" y="601.28" font-family="'Liberation Sans', Arial, sans-serif" font-size="13.3" fill="#555" text-anchor="end">glx</text>
</g>
<text transform="translate(736.30,568.20) rotate(-90)" textLength="39.59" lengthAdjust="spacingAndGlyphs" font-family="Carlito, 'Liberation Sans', sans-serif" font-size="23" fill="#000" stroke="#000" stroke-width="0.35" text-anchor="middle">Thal</text>
<text x="955.30" y="522.40" textLength="345.06" lengthAdjust="spacingAndGlyphs" font-family="Carlito, 'Liberation Sans', sans-serif" font-size="19.3" fill="#000" stroke="#000" stroke-width="0.15" xml:space="preserve">-0.08 [-0.35, 0.19] P=0.56, 10 studies, I<tspan font-size="13.5" dy="-5.4">2</tspan><tspan dy="5.4"> 54%</tspan></text>
<text x="959.90" y="553.10" textLength="323.48" lengthAdjust="spacingAndGlyphs" font-family="Carlito, 'Liberation Sans', sans-serif" font-size="19.3" fill="#000" stroke="#000" stroke-width="0.15" xml:space="preserve">0.58 [0.30, 0.86] P&lt;.001, 4 studies, I<tspan font-size="13.5" dy="-5.4">2</tspan><tspan dy="5.4"> 17%</tspan></text>
<text x="959.90" y="584.00" textLength="329.39" lengthAdjust="spacingAndGlyphs" font-family="Carlito, 'Liberation Sans', sans-serif" font-size="19.3" fill="#000" stroke="#000" stroke-width="0.15" xml:space="preserve">0.07 [-0.10, 0.25] P=0.39, 10 studies, I<tspan font-size="13.5" dy="-5.4">2</tspan><tspan dy="5.4"> 0%</tspan></text>
<g>
<line x1="805.67" y1="622.25" x2="805.67" y2="737.29" stroke="#f4f4f4" stroke-width="0.8"/>
<line x1="826.05" y1="622.25" x2="826.05" y2="737.29" stroke="#ececec" stroke-width="1.4"/>
<line x1="846.42" y1="622.25" x2="846.42" y2="737.29" stroke="#f4f4f4" stroke-width="0.8"/>
<line x1="866.80" y1="622.25" x2="866.80" y2="737.29" stroke="#ececec" stroke-width="1.4"/>
<line x1="887.17" y1="622.25" x2="887.17" y2="737.29" stroke="#f4f4f4" stroke-width="0.8"/>
<line x1="907.55" y1="622.25" x2="907.55" y2="737.29" stroke="#ececec" stroke-width="1.4"/>
<line x1="927.92" y1="622.25" x2="927.92" y2="737.29" stroke="#f4f4f4" stroke-width="0.8"/>
<line x1="786.00" y1="643.82" x2="947.80" y2="643.82" stroke="#ededed" stroke-width="1.5"/>
<line x1="786.00" y1="679.77" x2="947.80" y2="679.77" stroke="#ededed" stroke-width="1.5"/>
<line x1="786.00" y1="715.72" x2="947.80" y2="715.72" stroke="#ededed" stroke-width="1.5"/>
<rect x="786.00" y="622.25" width="161.80" height="115.04" fill="none" stroke="#dcdcdc" stroke-width="1.5"/>
<line x1="866.80" y1="622.25" x2="866.80" y2="737.29" stroke="#333" stroke-width="1.9" stroke-dasharray="5.3 5.3"/>
<line x1="843.16" y1="643.82" x2="882.28" y2="643.82" stroke="#333" stroke-width="1.9"/>
<circle cx="862.72" cy="643.82" r="4.9" fill="#000"/>
<line x1="832.57" y1="679.77" x2="940.15" y2="679.77" stroke="#333" stroke-width="1.9"/>
<circle cx="886.36" cy="679.77" r="4.9" fill="#000"/>
<line x1="873.32" y1="715.72" x2="905.92" y2="715.72" stroke="#0dce47" stroke-width="1.9"/>
<circle cx="889.62" cy="715.72" r="4.9" fill="#0dce47"/>
<text x="779.00" y="653.42" font-family="'Liberation Sans', Arial, sans-serif" font-size="13.3" fill="#555" text-anchor="end">glu</text>
<text x="779.00" y="689.37" font-family="'Liberation Sans', Arial, sans-serif" font-size="13.3" fill="#555" text-anchor="end">gln</text>
<text x="779.00" y="725.32" font-family="'Liberation Sans', Arial, sans-serif" font-size="13.3" fill="#555" text-anchor="end">glx</text>
</g>
<text transform="translate(736.30,687.20) rotate(-90)" textLength="27.03" lengthAdjust="spacingAndGlyphs" font-family="Carlito, 'Liberation Sans', sans-serif" font-size="23" fill="#000" stroke="#000" stroke-width="0.35" text-anchor="middle">BG</text>
<text x="955.30" y="646.00" textLength="335.30" lengthAdjust="spacingAndGlyphs" font-family="Carlito, 'Liberation Sans', sans-serif" font-size="19.3" fill="#000" stroke="#000" stroke-width="0.15" xml:space="preserve">-0.05 [-0.29, 0.19] P=0.67, 11 studies, I<tspan font-size="13.5" dy="-5.4">2</tspan><tspan dy="5.4"> 0%</tspan></text>
<text x="959.90" y="676.90" textLength="329.39" lengthAdjust="spacingAndGlyphs" font-family="Carlito, 'Liberation Sans', sans-serif" font-size="19.3" fill="#000" stroke="#000" stroke-width="0.15" xml:space="preserve">0.24 [-0.42, 0.90] P=0.47, 4 studies, I<tspan font-size="13.5" dy="-5.4">2</tspan><tspan dy="5.4"> 70%</tspan></text>
<text x="959.90" y="707.90" textLength="323.50" lengthAdjust="spacingAndGlyphs" font-family="Carlito, 'Liberation Sans', sans-serif" font-size="19.3" fill="#000" stroke="#000" stroke-width="0.15" xml:space="preserve">0.28 [0.08, 0.48] P=0.01, 15 studies, I<tspan font-size="13.5" dy="-5.4">2</tspan><tspan dy="5.4"> 0%</tspan></text>
<text x="826.05" y="755.1" font-family="'Liberation Sans', Arial, sans-serif" font-size="13" fill="#4d4d4d" stroke="#4d4d4d" stroke-width="0.35">-0.5</text>
<text x="866.80" y="755.1" font-family="'Liberation Sans', Arial, sans-serif" font-size="13" fill="#4d4d4d" stroke="#4d4d4d" stroke-width="0.35">0.0</text>
<text x="907.55" y="755.1" font-family="'Liberation Sans', Arial, sans-serif" font-size="13" fill="#4d4d4d" stroke="#4d4d4d" stroke-width="0.35">0.5</text>
<text x="715.7" y="24.8" font-family="'Liberation Sans', Arial, sans-serif" font-size="33.5" font-weight="bold" fill="#000">B</text>
<text x="791.9" y="24.7" font-family="'Liberation Sans', Arial, sans-serif" font-size="11.75" fill="#333" stroke="#333" stroke-width="0.3">SMD (95% CI)</text>
<text x="876.0" y="24.6" font-family="'Liberation Sans', Arial, sans-serif" font-size="14.75" fill="#000">Medicated</text>
<g>
<line x1="1507.12" y1="38.10" x2="1507.12" y2="209.46" stroke="#f4f4f4" stroke-width="0.8"/>
<line x1="1528.85" y1="38.10" x2="1528.85" y2="209.46" stroke="#ececec" stroke-width="1.4"/>
<line x1="1550.58" y1="38.10" x2="1550.58" y2="209.46" stroke="#f4f4f4" stroke-width="0.8"/>
<line x1="1572.30" y1="38.10" x2="1572.30" y2="209.46" stroke="#ececec" stroke-width="1.4"/>
<line x1="1594.02" y1="38.10" x2="1594.02" y2="209.46" stroke="#f4f4f4" stroke-width="0.8"/>
<line x1="1615.75" y1="38.10" x2="1615.75" y2="209.46" stroke="#ececec" stroke-width="1.4"/>
<line x1="1637.47" y1="38.10" x2="1637.47" y2="209.46" stroke="#f4f4f4" stroke-width="0.8"/>
<line x1="1659.20" y1="38.10" x2="1659.20" y2="209.46" stroke="#ececec" stroke-width="1.4"/>
<line x1="1501.10" y1="70.23" x2="1662.50" y2="70.23" stroke="#ededed" stroke-width="1.5"/>
<line x1="1501.10" y1="123.78" x2="1662.50" y2="123.78" stroke="#ededed" stroke-width="1.5"/>
<line x1="1501.10" y1="177.33" x2="1662.50" y2="177.33" stroke="#ededed" stroke-width="1.5"/>
<rect x="1501.10" y="38.10" width="161.40" height="171.36" fill="none" stroke="#dcdcdc" stroke-width="1.5"/>
<line x1="1572.30" y1="38.10" x2="1572.30" y2="209.46" stroke="#333" stroke-width="1.9" stroke-dasharray="5.3 5.3"/>
<line x1="1543.62" y1="70.23" x2="1597.50" y2="70.23" stroke="#333" stroke-width="1.9"/>
<circle cx="1570.56" cy="70.23" r="4.9" fill="#000"/>
<line x1="1544.49" y1="123.78" x2="1635.74" y2="123.78" stroke="#333" stroke-width="1.9"/>
<circle cx="1589.68" cy="123.78" r="4.9" fill="#000"/>
<line x1="1507.99" y1="177.33" x2="1587.07" y2="177.33" stroke="#333" stroke-width="1.9"/>
<circle cx="1547.97" cy="177.33" r="4.9" fill="#000"/>
<text x="1494.10" y="79.83" font-family="'Liberation Sans', Arial, sans-serif" font-size="13.3" fill="#555" text-anchor="end">glu</text>
<text x="1494.10" y="133.38" font-family="'Liberation Sans', Arial, sans-serif" font-size="13.3" fill="#555" text-anchor="end">gln</text>
<text x="1494.10" y="186.93" font-family="'Liberation Sans', Arial, sans-serif" font-size="13.3" fill="#555" text-anchor="end">glx</text>
</g>
<text transform="translate(1452.50,124.80) rotate(-90)" textLength="42.30" lengthAdjust="spacingAndGlyphs" font-family="Carlito, 'Liberation Sans', sans-serif" font-size="23" fill="#000" stroke="#000" stroke-width="0.35" text-anchor="middle">MFC</text>
<text x="1675.60" y="58.40" textLength="345.06" lengthAdjust="spacingAndGlyphs" font-family="Carlito, 'Liberation Sans', sans-serif" font-size="19.3" fill="#000" stroke="#000" stroke-width="0.15" xml:space="preserve">-0.02 [-0.33, 0.29] P=0.90, 12 studies, I<tspan font-size="13.5" dy="-5.4">2</tspan><tspan dy="5.4"> 68%</tspan></text>
<text x="1680.30" y="89.00" textLength="329.39" lengthAdjust="spacingAndGlyphs" font-family="Carlito, 'Liberation Sans', sans-serif" font-size="19.3" fill="#000" stroke="#000" stroke-width="0.15" xml:space="preserve">0.20 [-0.32, 0.73] P=0.45, 7 studies, I<tspan font-size="13.5" dy="-5.4">2</tspan><tspan dy="5.4"> 78%</tspan></text>
<text x="1675.60" y="119.50" textLength="335.30" lengthAdjust="spacingAndGlyphs" font-family="Carlito, 'Liberation Sans', sans-serif" font-size="19.3" fill="#000" stroke="#000" stroke-width="0.15" xml:space="preserve">-0.28 [-0.74, 0.17] P=0.22, 8 studies, I<tspan font-size="13.5" dy="-5.4">2</tspan><tspan dy="5.4"> 76%</tspan></text>
<g>
<line x1="1507.12" y1="218.66" x2="1507.12" y2="336.47" stroke="#f4f4f4" stroke-width="0.8"/>
<line x1="1528.85" y1="218.66" x2="1528.85" y2="336.47" stroke="#ececec" stroke-width="1.4"/>
<line x1="1550.58" y1="218.66" x2="1550.58" y2="336.47" stroke="#f4f4f4" stroke-width="0.8"/>
<line x1="1572.30" y1="218.66" x2="1572.30" y2="336.47" stroke="#ececec" stroke-width="1.4"/>
<line x1="1594.02" y1="218.66" x2="1594.02" y2="336.47" stroke="#f4f4f4" stroke-width="0.8"/>
<line x1="1615.75" y1="218.66" x2="1615.75" y2="336.47" stroke="#ececec" stroke-width="1.4"/>
<line x1="1637.47" y1="218.66" x2="1637.47" y2="336.47" stroke="#f4f4f4" stroke-width="0.8"/>
<line x1="1659.20" y1="218.66" x2="1659.20" y2="336.47" stroke="#ececec" stroke-width="1.4"/>
<line x1="1501.10" y1="250.79" x2="1662.50" y2="250.79" stroke="#ededed" stroke-width="1.5"/>
<line x1="1501.10" y1="304.34" x2="1662.50" y2="304.34" stroke="#ededed" stroke-width="1.5"/>
<rect x="1501.10" y="218.66" width="161.40" height="117.81" fill="none" stroke="#dcdcdc" stroke-width="1.5"/>
<line x1="1572.30" y1="218.66" x2="1572.30" y2="336.47" stroke="#333" stroke-width="1.9" stroke-dasharray="5.3 5.3"/>
<line x1="1511.47" y1="250.79" x2="1621.83" y2="250.79" stroke="#333" stroke-width="1.9"/>
<circle cx="1566.22" cy="250.79" r="4.9" fill="#000"/>
<line x1="1532.33" y1="304.34" x2="1602.71" y2="304.34" stroke="#333" stroke-width="1.9"/>
<circle cx="1567.09" cy="304.34" r="4.9" fill="#000"/>
<text x="1494.10" y="260.39" font-family="'Liberation Sans', Arial, sans-serif" font-size="13.3" fill="#555" text-anchor="end">glu</text>
<text x="1494.10" y="313.94" font-family="'Liberation Sans', Arial, sans-serif" font-size="13.3" fill="#555" text-anchor="end">glx</text>
</g>
<text transform="translate(1452.50,279.90) rotate(-90)" textLength="58.55" lengthAdjust="spacingAndGlyphs" font-family="Carlito, 'Liberation Sans', sans-serif" font-size="23" fill="#000" stroke="#000" stroke-width="0.35" text-anchor="middle">DLFPC</text>
<text x="1675.60" y="275.30" textLength="335.30" lengthAdjust="spacingAndGlyphs" font-family="Carlito, 'Liberation Sans', sans-serif" font-size="19.3" fill="#000" stroke="#000" stroke-width="0.15" xml:space="preserve">-0.07 [-0.70, 0.57] P=0.84, 4 studies, I<tspan font-size="13.5" dy="-5.4">2</tspan><tspan dy="5.4"> 78%</tspan></text>
<text x="1675.60" y="306.00" textLength="335.30" lengthAdjust="spacingAndGlyphs" font-family="Carlito, 'Liberation Sans', sans-serif" font-size="19.3" fill="#000" stroke="#000" stroke-width="0.15" xml:space="preserve">-0.06 [-0.46, 0.35] P=0.79, 4 studies, I<tspan font-size="13.5" dy="-5.4">2</tspan><tspan dy="5.4"> 47%</tspan></text>
<g>
<line x1="1507.12" y1="345.67" x2="1507.12" y2="409.93" stroke="#f4f4f4" stroke-width="0.8"/>
<line x1="1528.85" y1="345.67" x2="1528.85" y2="409.93" stroke="#ececec" stroke-width="1.4"/>
<line x1="1550.58" y1="345.67" x2="1550.58" y2="409.93" stroke="#f4f4f4" stroke-width="0.8"/>
<line x1="1572.30" y1="345.67" x2="1572.30" y2="409.93" stroke="#ececec" stroke-width="1.4"/>
<line x1="1594.02" y1="345.67" x2="1594.02" y2="409.93" stroke="#f4f4f4" stroke-width="0.8"/>
<line x1="1615.75" y1="345.67" x2="1615.75" y2="409.93" stroke="#ececec" stroke-width="1.4"/>
<line x1="1637.47" y1="345.67" x2="1637.47" y2="409.93" stroke="#f4f4f4" stroke-width="0.8"/>
<line x1="1659.20" y1="345.67" x2="1659.20" y2="409.93" stroke="#ececec" stroke-width="1.4"/>
<line x1="1501.10" y1="377.80" x2="1662.50" y2="377.80" stroke="#ededed" stroke-width="1.5"/>
<rect x="1501.10" y="345.67" width="161.40" height="64.26" fill="none" stroke="#dcdcdc" stroke-width="1.5"/>
<line x1="1572.30" y1="345.67" x2="1572.30" y2="409.93" stroke="#333" stroke-width="1.9" stroke-dasharray="5.3 5.3"/>
<line x1="1562.74" y1="377.80" x2="1655.72" y2="377.80" stroke="#333" stroke-width="1.9"/>
<circle cx="1608.80" cy="377.80" r="4.9" fill="#000"/>
<text x="1494.10" y="387.40" font-family="'Liberation Sans', Arial, sans-serif" font-size="13.3" fill="#555" text-anchor="end">glu</text>
</g>
<text transform="translate(1452.50,378.40) rotate(-90)" textLength="47.16" lengthAdjust="spacingAndGlyphs" font-family="Carlito, 'Liberation Sans', sans-serif" font-size="23" fill="#000" stroke="#000" stroke-width="0.35" text-anchor="middle">fWM</text>
<text x="1680.30" y="399.20" textLength="329.39" lengthAdjust="spacingAndGlyphs" font-family="Carlito, 'Liberation Sans', sans-serif" font-size="19.3" fill="#000" stroke="#000" stroke-width="0.15" xml:space="preserve">0.42 [-0.11, 0.96] P=0.12, 4 studies, I<tspan font-size="13.5" dy="-5.4">2</tspan><tspan dy="5.4"> 69%</tspan></text>
<g>
<line x1="1507.12" y1="419.13" x2="1507.12" y2="536.94" stroke="#f4f4f4" stroke-width="0.8"/>
<line x1="1528.85" y1="419.13" x2="1528.85" y2="536.94" stroke="#ececec" stroke-width="1.4"/>
<line x1="1550.58" y1="419.13" x2="1550.58" y2="536.94" stroke="#f4f4f4" stroke-width="0.8"/>
<line x1="1572.30" y1="419.13" x2="1572.30" y2="536.94" stroke="#ececec" stroke-width="1.4"/>
<line x1="1594.02" y1="419.13" x2="1594.02" y2="536.94" stroke="#f4f4f4" stroke-width="0.8"/>
<line x1="1615.75" y1="419.13" x2="1615.75" y2="536.94" stroke="#ececec" stroke-width="1.4"/>
<line x1="1637.47" y1="419.13" x2="1637.47" y2="536.94" stroke="#f4f4f4" stroke-width="0.8"/>
<line x1="1659.20" y1="419.13" x2="1659.20" y2="536.94" stroke="#ececec" stroke-width="1.4"/>
<line x1="1501.10" y1="451.26" x2="1662.50" y2="451.26" stroke="#ededed" stroke-width="1.5"/>
<line x1="1501.10" y1="504.81" x2="1662.50" y2="504.81" stroke="#ededed" stroke-width="1.5"/>
<rect x="1501.10" y="419.13" width="161.40" height="117.81" fill="none" stroke="#dcdcdc" stroke-width="1.5"/>
<line x1="1572.30" y1="419.13" x2="1572.30" y2="536.94" stroke="#333" stroke-width="1.9" stroke-dasharray="5.3 5.3"/>
<line x1="1531.46" y1="451.26" x2="1594.89" y2="451.26" stroke="#333" stroke-width="1.9"/>
<circle cx="1563.61" cy="451.26" r="4.9" fill="#000"/>
<line x1="1547.10" y1="504.81" x2="1646.16" y2="504.81" stroke="#333" stroke-width="1.9"/>
<circle cx="1596.63" cy="504.81" r="4.9" fill="#000"/>
<text x="1494.10" y="460.86" font-family="'Liberation Sans', Arial, sans-serif" font-size="13.3" fill="#555" text-anchor="end">glu</text>
<text x="1494.10" y="514.41" font-family="'Liberation Sans', Arial, sans-serif" font-size="13.3" fill="#555" text-anchor="end">glx</text>
</g>
<text transform="translate(1452.50,472.00) rotate(-90)" textLength="51.08" lengthAdjust="spacingAndGlyphs" font-family="Carlito, 'Liberation Sans', sans-serif" font-size="23" fill="#000" stroke="#000" stroke-width="0.35" text-anchor="middle">Temp</text>
<text x="1675.60" y="460.40" textLength="325.53" lengthAdjust="spacingAndGlyphs" font-family="Carlito, 'Liberation Sans', sans-serif" font-size="19.3" fill="#000" stroke="#000" stroke-width="0.15" xml:space="preserve">-0.10 [-0.47, 0.26] P=0.57, 4 studies, I<tspan font-size="13.5" dy="-5.4">2</tspan><tspan dy="5.4"> 0%</tspan></text>
<text x="1680.30" y="491.30" textLength="329.39" lengthAdjust="spacingAndGlyphs" font-family="Carlito, 'Liberation Sans', sans-serif" font-size="19.3" fill="#000" stroke="#000" stroke-width="0.15" xml:space="preserve">0.28 [-0.29, 0.85] P=0.33, 4 studies, I<tspan font-size="13.5" dy="-5.4">2</tspan><tspan dy="5.4"> 65%</tspan></text>
<g>
<line x1="1507.12" y1="546.14" x2="1507.12" y2="663.95" stroke="#f4f4f4" stroke-width="0.8"/>
<line x1="1528.85" y1="546.14" x2="1528.85" y2="663.95" stroke="#ececec" stroke-width="1.4"/>
<line x1="1550.58" y1="546.14" x2="1550.58" y2="663.95" stroke="#f4f4f4" stroke-width="0.8"/>
<line x1="1572.30" y1="546.14" x2="1572.30" y2="663.95" stroke="#ececec" stroke-width="1.4"/>
<line x1="1594.02" y1="546.14" x2="1594.02" y2="663.95" stroke="#f4f4f4" stroke-width="0.8"/>
<line x1="1615.75" y1="546.14" x2="1615.75" y2="663.95" stroke="#ececec" stroke-width="1.4"/>
<line x1="1637.47" y1="546.14" x2="1637.47" y2="663.95" stroke="#f4f4f4" stroke-width="0.8"/>
<line x1="1659.20" y1="546.14" x2="1659.20" y2="663.95" stroke="#ececec" stroke-width="1.4"/>
<line x1="1501.10" y1="578.27" x2="1662.50" y2="578.27" stroke="#ededed" stroke-width="1.5"/>
<line x1="1501.10" y1="631.82" x2="1662.50" y2="631.82" stroke="#ededed" stroke-width="1.5"/>
<rect x="1501.10" y="546.14" width="161.40" height="117.81" fill="none" stroke="#dcdcdc" stroke-width="1.5"/>
<line x1="1572.30" y1="546.14" x2="1572.30" y2="663.95" stroke="#333" stroke-width="1.9" stroke-dasharray="5.3 5.3"/>
<line x1="1520.16" y1="578.27" x2="1608.80" y2="578.27" stroke="#333" stroke-width="1.9"/>
<circle cx="1564.48" cy="578.27" r="4.9" fill="#000"/>
<line x1="1523.64" y1="631.82" x2="1591.42" y2="631.82" stroke="#333" stroke-width="1.9"/>
<circle cx="1557.53" cy="631.82" r="4.9" fill="#000"/>
<text x="1494.10" y="587.87" font-family="'Liberation Sans', Arial, sans-serif" font-size="13.3" fill="#555" text-anchor="end">glu</text>
<text x="1494.10" y="641.42" font-family="'Liberation Sans', Arial, sans-serif" font-size="13.3" fill="#555" text-anchor="end">glx</text>
</g>
<text transform="translate(1452.50,592.30) rotate(-90)" textLength="39.59" lengthAdjust="spacingAndGlyphs" font-family="Carlito, 'Liberation Sans', sans-serif" font-size="23" fill="#000" stroke="#000" stroke-width="0.35" text-anchor="middle">Thal</text>
<text x="1675.60" y="585.00" textLength="335.30" lengthAdjust="spacingAndGlyphs" font-family="Carlito, 'Liberation Sans', sans-serif" font-size="19.3" fill="#000" stroke="#000" stroke-width="0.15" xml:space="preserve">-0.09 [-0.60, 0.42] P=0.73, 4 studies, I<tspan font-size="13.5" dy="-5.4">2</tspan><tspan dy="5.4"> 68%</tspan></text>
<text x="1675.60" y="615.50" textLength="335.30" lengthAdjust="spacingAndGlyphs" font-family="Carlito, 'Liberation Sans', sans-serif" font-size="19.3" fill="#000" stroke="#000" stroke-width="0.15" xml:space="preserve">-0.17 [-0.56, 0.22] P=0.40, 3 studies, I<tspan font-size="13.5" dy="-5.4">2</tspan><tspan dy="5.4"> 28%</tspan></text>
<g>
<line x1="1507.12" y1="673.15" x2="1507.12" y2="737.41" stroke="#f4f4f4" stroke-width="0.8"/>
<line x1="1528.85" y1="673.15" x2="1528.85" y2="737.41" stroke="#ececec" stroke-width="1.4"/>
<line x1="1550.58" y1="673.15" x2="1550.58" y2="737.41" stroke="#f4f4f4" stroke-width="0.8"/>
<line x1="1572.30" y1="673.15" x2="1572.30" y2="737.41" stroke="#ececec" stroke-width="1.4"/>
<line x1="1594.02" y1="673.15" x2="1594.02" y2="737.41" stroke="#f4f4f4" stroke-width="0.8"/>
<line x1="1615.75" y1="673.15" x2="1615.75" y2="737.41" stroke="#ececec" stroke-width="1.4"/>
<line x1="1637.47" y1="673.15" x2="1637.47" y2="737.41" stroke="#f4f4f4" stroke-width="0.8"/>
<line x1="1659.20" y1="673.15" x2="1659.20" y2="737.41" stroke="#ececec" stroke-width="1.4"/>
<line x1="1501.10" y1="705.28" x2="1662.50" y2="705.28" stroke="#ededed" stroke-width="1.5"/>
<rect x="1501.10" y="673.15" width="161.40" height="64.26" fill="none" stroke="#dcdcdc" stroke-width="1.5"/>
<line x1="1572.30" y1="673.15" x2="1572.30" y2="737.41" stroke="#333" stroke-width="1.9" stroke-dasharray="5.3 5.3"/>
<line x1="1559.26" y1="705.28" x2="1634.00" y2="705.28" stroke="#333" stroke-width="1.9"/>
<circle cx="1596.63" cy="705.28" r="4.9" fill="#000"/>
<text x="1494.10" y="714.88" font-family="'Liberation Sans', Arial, sans-serif" font-size="13.3" fill="#555" text-anchor="end">glx</text>
</g>
<text transform="translate(1452.50,712.00) rotate(-90)" textLength="27.03" lengthAdjust="spacingAndGlyphs" font-family="Carlito, 'Liberation Sans', sans-serif" font-size="23" fill="#000" stroke="#000" stroke-width="0.35" text-anchor="middle">BG</text>
<text x="1680.30" y="708.70" textLength="329.39" lengthAdjust="spacingAndGlyphs" font-family="Carlito, 'Liberation Sans', sans-serif" font-size="19.3" fill="#000" stroke="#000" stroke-width="0.15" xml:space="preserve">0.28 [-0.15, 0.71] P=0.20, 3 studies, I<tspan font-size="13.5" dy="-5.4">2</tspan><tspan dy="5.4"> 49%</tspan></text>
<text x="1528.85" y="755.1" font-family="'Liberation Sans', Arial, sans-serif" font-size="13" fill="#4d4d4d" stroke="#4d4d4d" stroke-width="0.1">-0.5</text>
<text x="1572.30" y="755.1" font-family="'Liberation Sans', Arial, sans-serif" font-size="13" fill="#4d4d4d" stroke="#4d4d4d" stroke-width="0.1">0.0</text>
<text x="1615.75" y="755.1" font-family="'Liberation Sans', Arial, sans-serif" font-size="13" fill="#4d4d4d" stroke="#4d4d4d" stroke-width="0.1">0.5</text>
<text x="1659.20" y="755.1" font-family="'Liberation Sans', Arial, sans-serif" font-size="13" fill="#4d4d4d" stroke="#4d4d4d" stroke-width="0.1">1</text>
<text x="1429.9" y="24.6" font-family="'Liberation Sans', Arial, sans-serif" font-size="33.5" font-weight="bold" fill="#000">C</text>
<text x="1508.0" y="24.7" font-family="'Liberation Sans', Arial, sans-serif" font-size="11.75" fill="#333" stroke="#333" stroke-width="0.3">SMD (95% CI)</text>
<text x="1591.8" y="24.7" font-family="'Liberation Sans', Arial, sans-serif" font-size="13.5" fill="#000">Naïve</text>
</svg></body></html>
